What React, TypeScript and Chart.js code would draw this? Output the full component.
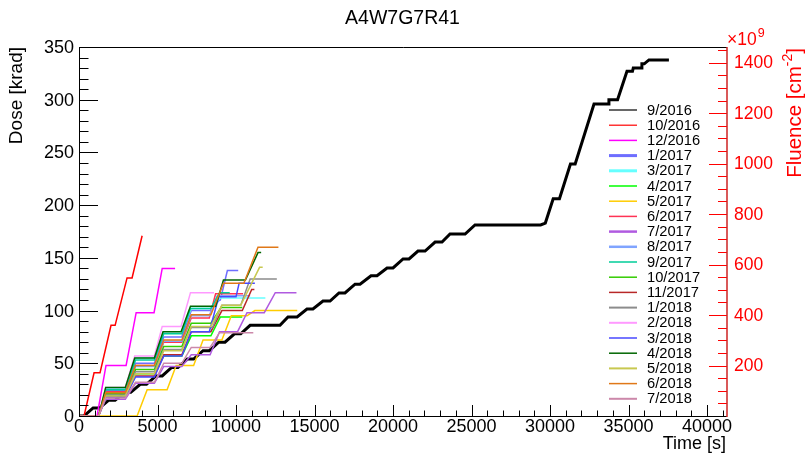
import React, { useEffect, useRef } from 'react';
import { Chart, registerables } from 'chart.js';
Chart.register(...registerables);

const FONT = '"Liberation Sans", Arial, Helvetica, sans-serif';

const TITLE = 'A4W7G7R41';
const X_TITLE = 'Time [s]';
const Y_TITLE = 'Dose [krad]';
const Y2_TITLE = 'Fluence [cm';
const Y2_SUP = '-2';

const X_MAX = 41270;
const Y_MAX = 350;
const Y2_MAX = 1462;

const X_TICKS = [0, 5000, 10000, 15000, 20000, 25000, 30000, 35000, 40000];
const Y_TICKS = [0, 50, 100, 150, 200, 250, 300, 350];
const Y2_TICKS = [200, 400, 600, 800, 1000, 1200, 1400];

// [time (s), dose (krad)]
const s9_2016: number[][] = [[0,0],[320,0],[900,7.6],[1300,7.6],[1900,15],[2300,15],[2900,22.5],[3300,22.5],[3900,30],[4300,30],[4900,38],[5300,38],[5900,46],[6300,46],[6900,54],[7300,54],[7900,62],[8300,62],[8900,70],[9300,70],[9900,78],[10300,78],[10900,86],[12800,86],[13310,94],[13890,94],[14520,101.5],[14900,101.5],[15540,109],[15990,109],[16560,116.7],[16940,116.7],[17580,125],[17900,125],[18600,133],[18980,133],[19620,140.4],[20000,140.4],[20640,149],[21020,149],[21590,156.5],[22040,156.5],[22680,165],[23120,165],[23630,172.6],[24590,172.6],[25220,181.2],[29400,181.2],[29700,183],[30200,206],[30600,206],[31300,239],[31600,239],[32800,296],[33700,296],[33750,300],[34300,300],[34900,327],[35250,327],[35300,330],[35800,330],[35850,334],[36000,334],[36300,337.7],[37570,337.7]];
const s10_2016: number[][] = [[0,0],[320,0],[960,41],[1340,41],[2040,86],[2300,86],[3060,131],[3380,131],[4020,171]];
const s12_2016: number[][] = [[0,0],[1150,0],[1720,48],[3000,48],[3640,98],[4780,98],[5300,140],[6120,140]];
const s1_2017: number[][] = [[0,0],[1250,0],[1700,24],[2950,24],[3600,50],[4800,50],[5400,75],[6550,75],[7150,100],[8350,100],[8950,110],[9000,110],[9450,138],[10140,138]];
const s3_2017: number[][] = [[0,0],[1250,0],[1700,26],[2950,26],[3600,55],[4800,55],[5400,80],[6550,80],[7150,102],[8400,102],[9000,112],[11870,112]];
const s4_2017: number[][] = [[0,0],[1250,0],[1700,20],[2950,20],[3600,40],[4800,40],[5400,57],[6550,57],[7150,76],[8400,76],[9000,94],[10400,94]];
const s5_2017: number[][] = [[0,0],[3700,0],[4340,25],[5610,25],[6190,48],[7300,48],[7900,72],[9100,72],[9700,95],[10700,95],[11200,100],[13900,100]];
const s6_2017: number[][] = [[0,0],[1250,0],[1700,23],[2950,23],[3600,48],[4800,48],[5400,70],[6550,70],[7150,93],[8300,93],[8700,116],[10450,116]];
const s7_2017: number[][] = [[0,0],[1250,0],[1700,16],[2950,16],[3600,31],[4800,31],[5400,47],[6550,47],[7150,58],[8350,58],[8950,80],[10100,80],[10700,98],[11800,98],[12500,117],[13850,117]];
const s8_2017: number[][] = [[0,0],[1250,0],[1700,22],[2950,22],[3600,47],[4800,47],[5400,71],[6550,71],[7150,95],[8300,95],[8800,114],[10900,114]];
const s9_2017: number[][] = [[0,0],[1250,0],[1700,25],[2950,25],[3600,53],[4800,53],[5400,78],[6550,78],[7100,102],[8400,102],[8950,117],[9600,117]];
const s10_2017: number[][] = [[0,0],[1250,0],[1700,21],[2950,21],[3600,44],[4800,44],[5400,66],[6550,66],[7150,88],[8400,88],[9050,103],[10400,103]];
const s11_2017: number[][] = [[0,0],[1250,0],[1700,18],[2950,18],[3600,38],[4800,38],[5400,58],[6550,58],[7150,80],[8400,80],[9100,100],[10400,100],[11000,120],[11170,120]];
const s1_2018: number[][] = [[0,0],[1250,0],[1700,20],[2950,20],[3600,42],[4800,42],[5400,63],[6550,63],[7150,84],[8500,84],[9100,105],[10300,105],[10900,130],[12600,130]];
const s2_2018: number[][] = [[0,0],[1250,0],[1700,27],[2950,27],[3550,57],[4800,57],[5300,85],[6500,85],[7100,117],[8600,117]];
const s3_2018: number[][] = [[0,0],[1250,0],[1700,18],[2950,18],[3600,37],[4800,37],[5400,57],[6550,57],[7150,80],[8300,80],[8900,113],[10000,113],[10200,126],[11200,126]];
const s4_2018: number[][] = [[0,0],[1250,0],[1700,27],[2950,27],[3550,55],[4800,55],[5350,80],[6500,80],[7100,104],[8700,104],[9200,129],[10600,129],[11400,155],[11600,155]];
const s5_2018: number[][] = [[0,0],[1250,0],[1700,19],[2950,19],[3600,40],[4800,40],[5400,62],[6550,62],[7150,85],[8400,85],[9100,105],[10300,105],[11500,141],[11700,141]];
const s6_2018: number[][] = [[0,0],[1250,0],[1700,22],[2950,22],[3600,48],[4800,48],[5400,72],[6550,72],[7150,96],[8400,96],[9200,126],[10500,126],[11400,160],[12700,160]];
const s7_2018: number[][] = [[0,0],[1250,0],[1700,17],[2950,17],[3600,32],[4800,32],[5400,50],[6550,50],[7150,65],[8350,65],[8950,79],[11100,79]];

const LABELS = ['9/2016','10/2016','12/2016','1/2017','3/2017','4/2017','5/2017','6/2017','7/2017','8/2017','9/2017','10/2017','11/2017','1/2018','2/2018','3/2018','4/2018','5/2018','6/2018','7/2018'];
const SERIES = [s9_2016,s10_2016,s12_2016,s1_2017,s3_2017,s4_2017,s5_2017,s6_2017,s7_2017,s8_2017,s9_2017,s10_2017,s11_2017,s1_2018,s2_2018,s3_2018,s4_2018,s5_2018,s6_2018,s7_2018];
const COLORS = ['#000000','#ff0000','#ff00ff','#6e6eff','#66ffff','#00ff00','#ffcc00','#ff3355','#b05ae0','#80a4ff','#00cc99','#33cc00','#b82828','#8c8c8c','#ff99ff','#4848ff','#006600','#c8c850','#e07818','#cc88aa'];
const WIDTHS = [3,1.5,1.5,1.5,1.5,1.5,1.5,1.5,1.5,1.5,1.5,1.5,1.5,1.5,1.5,1.5,1.5,1.5,1.5,1.5];
const LEG_WIDTHS = [1.2,1.2,1.5,3,3,1.5,1.5,1.5,2.5,2.5,1.5,1.5,1.5,2,2,1.5,1.5,2,1.5,2];

const decor = {
  id: 'rootDecor',
  afterDraw(chart: any) {
    const { ctx, chartArea: a, scales } = chart;
    const xs = scales.x, ys = scales.y, y2 = scales.y2;
    ctx.save();
    // frame
    ctx.strokeStyle = '#000';
    ctx.lineWidth = 1;
    ctx.beginPath();
    ctx.moveTo(a.left + 0.5, a.bottom + 0.5);
    ctx.lineTo(a.left + 0.5, a.top + 0.5);
    ctx.lineTo(a.right, a.top + 0.5);
    ctx.moveTo(a.left, a.bottom + 0.5);
    ctx.lineTo(a.right, a.bottom + 0.5);
    for (let v = 0; v <= Y_MAX; v += 10) {
      const py = Math.round(ys.getPixelForValue(v)) + 0.5;
      const len = v % 50 === 0 ? 19 : 9.5;
      ctx.moveTo(a.left, py);
      ctx.lineTo(a.left + len, py);
    }
    for (let v = 0; v <= X_MAX; v += 1000) {
      const px = Math.round(xs.getPixelForValue(v)) + 0.5;
      const len = v % 5000 === 0 ? 11 : 5.5;
      ctx.moveTo(px, a.bottom);
      ctx.lineTo(px, a.bottom - len);
    }
    ctx.stroke();
    // right axis
    ctx.strokeStyle = '#ff0000';
    ctx.beginPath();
    for (let v = 50; v <= Y2_MAX; v += 50) {
      const py = Math.round(y2.getPixelForValue(v)) + 0.5;
      const len = v % 200 === 0 ? 18 : 9;
      ctx.moveTo(a.right, py);
      ctx.lineTo(a.right - len, py);
    }
    ctx.stroke();
    ctx.strokeStyle = '#cc2222';
    ctx.lineWidth = 1.5;
    ctx.beginPath();
    ctx.moveTo(a.right, a.top);
    ctx.lineTo(a.right, a.bottom + 1);
    ctx.stroke();

    // tick labels
    ctx.fillStyle = '#000';
    ctx.font = `18px ${FONT}`;
    ctx.textAlign = 'center';
    ctx.textBaseline = 'alphabetic';
    for (const v of X_TICKS) ctx.fillText(String(v), xs.getPixelForValue(v), 432);
    ctx.textAlign = 'right';
    ctx.textBaseline = 'middle';
    for (const v of Y_TICKS) ctx.fillText(String(v), a.left - 5, ys.getPixelForValue(v) + 1);
    ctx.fillStyle = '#ff0000';
    ctx.font = `17.5px ${FONT}`;
    ctx.textAlign = 'left';
    for (const v of Y2_TICKS) ctx.fillText(String(v), a.right + 7, y2.getPixelForValue(v) + 1);

    // main title
    ctx.fillStyle = '#000';
    ctx.font = `19.5px ${FONT}`;
    ctx.textAlign = 'center';
    ctx.textBaseline = 'alphabetic';
    ctx.fillText(TITLE, 402.5, 24);

    // x title
    ctx.font = `18px ${FONT}`;
    ctx.textAlign = 'right';
    ctx.fillText(X_TITLE, a.right - 1, 449);

    // y title
    ctx.save();
    ctx.font = `19px ${FONT}`;
    ctx.translate(17, a.top);
    ctx.rotate(-Math.PI / 2);
    ctx.textAlign = 'right';
    ctx.textBaseline = 'middle';
    ctx.fillText(Y_TITLE, 0, 0);
    ctx.restore();

    // y2 title
    ctx.save();
    ctx.fillStyle = '#ff0000';
    ctx.translate(794, a.top + 1);
    ctx.rotate(-Math.PI / 2);
    ctx.textBaseline = 'alphabetic';
    ctx.textAlign = 'left';
    const big = `20.5px ${FONT}`;
    const small = `14px ${FONT}`;
    ctx.font = big;
    const w1 = ctx.measureText(Y2_TITLE).width;
    const w3 = ctx.measureText(']').width;
    ctx.font = small;
    const w2 = ctx.measureText(Y2_SUP).width;
    const start = -(w1 + w2 + w3);
    ctx.font = big;
    ctx.fillText(Y2_TITLE, start, 7.3);
    ctx.fillText(']', start + w1 + w2, 7.3);
    ctx.font = small;
    ctx.fillText(Y2_SUP, start + w1, -2);
    ctx.restore();

    // x10^9
    ctx.fillStyle = '#ff0000';
    ctx.textAlign = 'left';
    ctx.textBaseline = 'alphabetic';
    ctx.font = `17.5px ${FONT}`;
    ctx.fillText('\u00d710', a.right, 45);
    const wx = ctx.measureText('\u00d710').width;
    ctx.font = `12.5px ${FONT}`;
    ctx.fillText('9', a.right + wx + 1, 37);

    // legend
    ctx.font = `14.7px ${FONT}`;
    ctx.textBaseline = 'middle';
    ctx.textAlign = 'left';
    for (let i = 0; i < LABELS.length; i++) {
      const yy = 110 + i * 15.2;
      ctx.strokeStyle = COLORS[i];
      ctx.lineWidth = LEG_WIDTHS[i];
      ctx.beginPath();
      ctx.moveTo(609, yy);
      ctx.lineTo(637, yy);
      ctx.stroke();
      ctx.fillStyle = '#000';
      ctx.fillText(LABELS[i], 647, yy + 0.5);
    }
    ctx.restore();
  },
};

export default function App() {
  const ref = useRef<HTMLCanvasElement>(null);
  useEffect(() => {
    const datasets = SERIES.map((s, i) => ({
      label: LABELS[i],
      data: s.map(([x, y]) => ({ x, y })),
      borderColor: COLORS[i],
      backgroundColor: COLORS[i],
      borderWidth: WIDTHS[i],
      pointRadius: 0,
      fill: false,
      tension: 0,
      order: SERIES.length - i,
      yAxisID: 'y',
    }));
    const chart = new Chart(ref.current as HTMLCanvasElement, {
      type: 'line',
      data: { datasets },
      plugins: [decor],
      options: {
        animation: false,
        responsive: false,
        devicePixelRatio: 1,
        layout: { padding: { top: 47, left: 0, right: 0, bottom: 0 } },
        plugins: { legend: { display: false }, tooltip: { enabled: false }, title: { display: false } },
        scales: {
          x: {
            type: 'linear',
            min: 0,
            max: X_MAX,
            grid: { display: false, drawTicks: false },
            border: { display: false },
            ticks: { display: false },
            afterFit: (s: any) => { s.height = 38; },
          },
          y: {
            type: 'linear',
            position: 'left',
            min: 0,
            max: Y_MAX,
            grid: { display: false, drawTicks: false },
            border: { display: false },
            ticks: { display: false },
            afterFit: (s: any) => { s.width = 79; },
          },
          y2: {
            type: 'linear',
            position: 'right',
            min: 0,
            max: Y2_MAX,
            grid: { display: false, drawTicks: false },
            border: { display: false },
            ticks: { display: false },
            afterFit: (s: any) => { s.width = 78; },
          },
        },
      } as any,
    });
    return () => chart.destroy();
  }, []);
  return (
    <div style={{ position: 'absolute', left: 0, top: 0, width: 805, height: 454, background: '#fff' }}>
      <canvas ref={ref} width={805} height={454} style={{ display: 'block' }} />
    </div>
  );
}
